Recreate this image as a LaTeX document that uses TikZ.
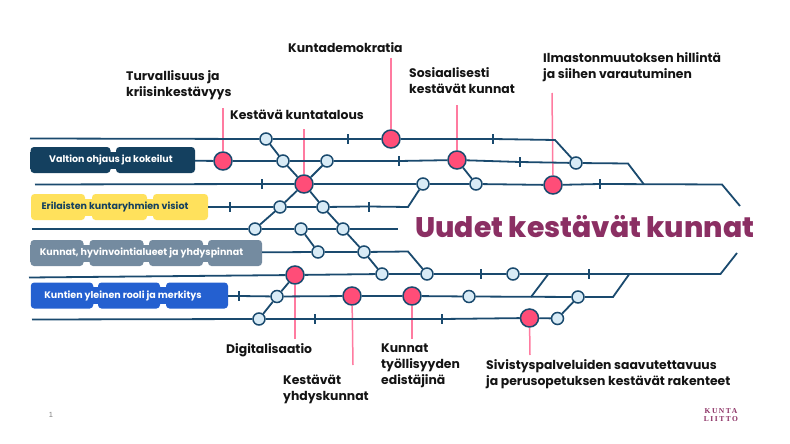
\documentclass[tikz,border=0pt]{standalone}
\usepackage{fontspec}
\setmainfont{Poppins}
\newfontfamily\titlefont{Poppins ExtraBold}
\newfontfamily\logofont[LetterSpace=20]{Liberation Serif}
\newfontfamily\pagefont{Liberation Sans}
\usepackage{tikz}
\definecolor{rail}{HTML}{1A4A6E}
\definecolor{hot}{HTML}{FF4D78}
\definecolor{pinpink}{HTML}{FF7BA0}
\definecolor{pale}{HTML}{D8EBF6}
\definecolor{plum}{HTML}{8B2F63}
\definecolor{navybox}{HTML}{14405F}
\definecolor{yellowbox}{HTML}{FFE15C}
\definecolor{greybox}{HTML}{748BA0}
\definecolor{bluebox}{HTML}{2460D0}
\definecolor{inkblack}{HTML}{141414}
\begin{document}
\begin{tikzpicture}[x=1pt,y=-1pt,
	big_stop/.style={circle,fill=hot,draw=rail,line width=1.5pt,minimum size=18pt,inner sep=0pt},
	small_stop/.style={circle,fill=pale,draw=rail,line width=1.5pt,minimum size=12pt,inner sep=0pt},
	tick_mark/.style={fill=rail,minimum width=2pt,minimum height=10pt,inner sep=0pt},
	rail_line/.style={draw=rail,line width=1.8pt},
	pin_line/.style={draw=pinpink,line width=1.5pt},
	seg_box/.style={rounded corners=3.5pt,minimum height=26pt,inner sep=0pt},
	band_box/.style={minimum height=17pt,inner sep=0pt,font=\fontsize{9.5}{11}\selectfont\bfseries},
	theme_label/.style={anchor=west,align=left,inner sep=0pt,text=inkblack,font=\fontsize{12.4}{16}\selectfont\bfseries}]
	\useasboundingbox (0,0) rectangle (790,444);

	% stations, row by row
	\node[small_stop] (s11) at (266,139) {};
	\node[tick_mark] (t11) at (348,139) {};
	\node[big_stop] (demokratia) at (391,139) {};
	\node[tick_mark] (t12) at (493,139) {};
	\coordinate (b11) at (555,140);

	\node[big_stop] (turva) at (223,161) {};
	\node[small_stop] (s21) at (283,161) {};
	\node[small_stop] (s22) at (327,161) {};
	\node[tick_mark] (t21) at (399,161) {};
	\node[big_stop] (sosiaali) at (457,160) {};
	\node[tick_mark] (t22) at (520,162) {};
	\node[small_stop] (s23) at (576,163) {};
	\coordinate (b21) at (628,163.5);

	\node[tick_mark] (t31) at (262,184) {};
	\node[big_stop] (talous) at (304,184) {};
	\node[small_stop] (s31) at (423,184) {};
	\node[small_stop] (s32) at (476,184) {};
	\node[big_stop] (ilmasto) at (553,185) {};
	\node[tick_mark] (t32) at (600,184) {};
	\coordinate (b31) at (644,184.5);
	\coordinate (b32) at (722,184.5);
	\coordinate (e3) at (740,206);

	\node[tick_mark] (t41) at (230,207) {};
	\node[small_stop] (s41) at (280,207) {};
	\node[small_stop] (s42) at (323,207) {};
	\node[tick_mark] (t42) at (369,206.5) {};
	\coordinate (b41) at (408,207);

	\node[small_stop] (s51) at (255,229) {};
	\node[small_stop] (s52) at (301,229) {};
	\node[small_stop] (s53) at (343,229) {};

	\node[small_stop] (s61) at (318,252) {};
	\node[small_stop] (s62) at (364,252) {};
	\coordinate (b61) at (408,251.5);

	\node[big_stop] (digi) at (295,275) {};
	\node[small_stop] (s71) at (382,274) {};
	\node[small_stop] (s72) at (427,274) {};
	\node[tick_mark] (t71) at (481,274) {};
	\node[small_stop] (s73) at (513,274) {};
	\coordinate (b71) at (548,274.5);
	\node[tick_mark] (t72) at (589,274) {};
	\coordinate (b72) at (629,274.5);
	\coordinate (b73) at (720.5,274);
	\coordinate (e7) at (737,253);

	\node[tick_mark] (t81) at (239,296) {};
	\node[small_stop] (s81) at (277,296.5) {};
	\node[big_stop] (yhdys) at (352,296) {};
	\node[big_stop] (tyo) at (412,296) {};
	\node[small_stop] (s82) at (469,296.5) {};
	\coordinate (b81) at (531,297);
	\node[small_stop] (s83) at (578,297) {};
	\coordinate (b82) at (613,297);

	\node[small_stop] (s91) at (259,319) {};
	\node[tick_mark] (t91) at (315,319) {};
	\node[tick_mark] (t92) at (442,319) {};
	\node[big_stop] (sivistys) at (529.5,318) {};
	\node[small_stop] (s92) at (557.5,318.5) {};

	% boxes on the left
	\node[seg_box,fill=navybox,minimum width=80pt] (v1) at (70.5,160) {};
	\node[seg_box,fill=navybox,minimum width=79pt] (v2) at (155.5,160) {};
	\node[band_box,fill=navybox,minimum width=165pt,text=white] (valtio) at (112.5,160) {\hspace{-3pt}Valtion ohjaus ja kokeilut};

	\node[seg_box,fill=yellowbox,minimum width=54pt] (e1) at (58,207) {};
	\node[seg_box,fill=yellowbox,minimum width=55pt] (e2) at (119.5,207) {};
	\node[seg_box,fill=yellowbox,minimum width=55pt] (e3b) at (180.5,207) {};
	\node[band_box,fill=yellowbox,minimum width=177pt,text=navybox] (visiot) at (119.5,207) {\hspace{-9pt}Erilaisten kuntaryhmien visiot};

	\node[seg_box,fill=greybox,minimum width=53pt] (k1) at (57,253) {};
	\node[seg_box,fill=greybox,minimum width=54pt] (k2) at (116.5,253) {};
	\node[seg_box,fill=greybox,minimum width=54pt] (k3) at (176,253) {};
	\node[seg_box,fill=greybox,minimum width=54pt] (k4) at (235,253) {};
	\node[band_box,fill=greybox,minimum width=232pt,text=white] (kunnat) at (146,253) {\hspace{-9pt}Kunnat, hyvinvointialueet ja yhdyspinnat};

	\node[seg_box,fill=bluebox,minimum width=62.5pt] (r1) at (62,295.5) {};
	\node[seg_box,fill=bluebox,minimum width=62pt] (r2) at (129,295.5) {};
	\node[seg_box,fill=bluebox,minimum width=62pt] (r3) at (197,295.5) {};
	\node[band_box,fill=bluebox,minimum width=197pt,text=white] (rooli) at (129.5,295.5) {\hspace{-13pt}Kuntien yleinen rooli ja merkitys};

	% labels of the pins
	\coordinate (p1) at (223,108);
	\coordinate (p2) at (391,58);
	\coordinate (p3) at (304,129);
	\coordinate (p4) at (457,105);
	\coordinate (p5) at (552,93);
	\coordinate (p6) at (295,339);
	\coordinate (p7) at (353,365);
	\coordinate (p8) at (412,339);
	\coordinate (p9) at (530,355);

	\draw[pin_line] (p1) -- (turva);
	\draw[pin_line] (p2) -- (demokratia);
	\draw[pin_line] (p3) -- (talous);
	\draw[pin_line] (p4) -- (sosiaali);
	\draw[pin_line] (p5) -- (ilmasto);
	\draw[pin_line] (p6) -- (digi);
	\draw[pin_line] (p7) -- (yhdys);
	\draw[pin_line] (p8) -- (tyo);
	\draw[pin_line] (p9) -- (sivistys);

	% rails
	\coordinate (a1) at (30,138.5);
	\coordinate (a3) at (35,184.5);
	\coordinate (a5) at (32,229);
	\coordinate (e5) at (398,229);
	\coordinate (a7) at (29,277.5);
	\coordinate (a9) at (32,319.5);
	\draw[rail_line] (a1) -- (s11) -- (t11) -- (demokratia) -- (t12) -- (b11) -- (s23);
	\draw[rail_line] (valtio) -- (turva) -- (s21) -- (s22) -- (t21) -- (sosiaali) -- (t22) -- (s23) -- (b21) -- (b31);
	\draw[rail_line] (a3) -- (t31) -- (talous) -- (s31) -- (s32) -- (ilmasto) -- (t32) -- (b32) -- (e3);
	\draw[rail_line] (visiot) -- (t41) -- (s41) -- (s42) -- (t42) -- (b41) -- (s31);
	\draw[rail_line] (a5) -- (s51) -- (s52) -- (s53) -- (e5);
	\draw[rail_line] (kunnat) -- (s61) -- (s62) -- (b61) -- (s72);
	\draw[rail_line] (a7) -- (digi) -- (s71) -- (s72) -- (t71) -- (s73) -- (t72) -- (b73) -- (e7);
	\draw[rail_line] (rooli) -- (t81) -- (s81) -- (yhdys) -- (tyo) -- (s82) -- (s83) -- (b82) -- (b72);
	\draw[rail_line] (b81) -- (b71);
	\draw[rail_line] (a9) -- (s91) -- (t91) -- (t92) -- (sivistys) -- (s92) -- (s83);
	% crossing links
	\draw[rail_line] (s11) -- (s21) -- (talous) -- (s42) -- (s53) -- (s62) -- (s71);
	\draw[rail_line] (s22) -- (talous) -- (s41) -- (s51);
	\draw[rail_line] (s52) -- (s61);
	\draw[rail_line] (sosiaali) -- (s32);
	\draw[rail_line] (digi) -- (s81) -- (s91);

	% texts
	\node[anchor=west,inner sep=0pt,text=plum,font=\titlefont\fontsize{28.3}{30}\selectfont] (otsikko) at (415,227) {Uudet kestävät kunnat};
	\node[theme_label] (l1) at (126,85) {Turvallisuus ja\\kriisinkestävyys};
	\node[theme_label] (l2) at (288,48) {Kuntademokratia};
	\node[theme_label] (l3) at (230,115) {Kestävä kuntatalous};
	\node[theme_label] (l4) at (409,81) {Sosiaalisesti\\kestävät kunnat};
	\node[theme_label] (l5) at (543,67) {Ilmastonmuutoksen hillintä\\ja siihen varautuminen};
	\node[theme_label] (l6) at (226,350) {Digitalisaatio};
	\node[theme_label] (l7) at (283,389) {Kestävät\\yhdyskunnat};
	\node[theme_label] (l8) at (381,366) {Kunnat\\työllisyyden\\edistäjinä};
	\node[theme_label] (l9) at (486,374) {Sivistyspalveluiden saavutettavuus\\ja perusopetuksen kestävät rakenteet};
	\node[inner sep=0pt,text=gray,font=\pagefont\fontsize{7.5}{8}\selectfont] (sivu) at (51,415) {1};
	\node[inner sep=0pt,align=center,text=plum,font=\logofont\fontsize{7.5}{8}\selectfont\bfseries] (logo) at (721,415.5) {KUNTA\\LIITTO};
\end{tikzpicture}
\end{document}
